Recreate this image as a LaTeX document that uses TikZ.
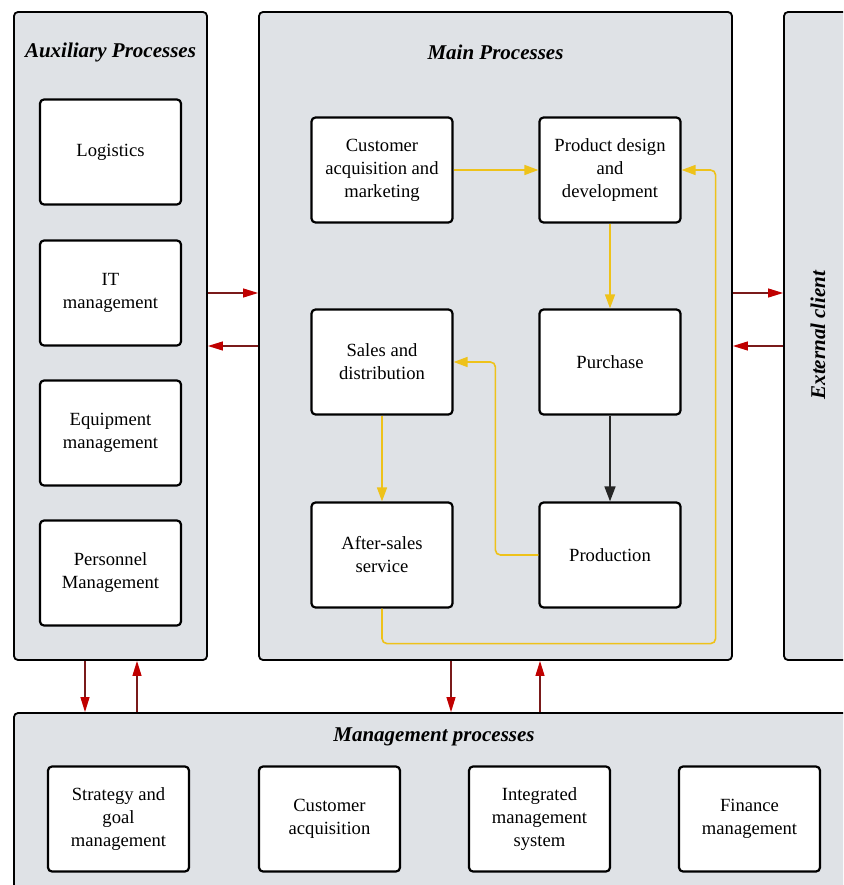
\documentclass[tikz,border=0pt]{standalone}
\usepackage{fontspec}
\setmainfont{Liberation Serif}
\usetikzlibrary{arrows.meta,calc}
\definecolor{panelfill}{HTML}{DFE2E6}
\definecolor{darkred}{HTML}{7A1A1A}
\definecolor{tipred}{HTML}{C00000}
\definecolor{flowyellow}{HTML}{EEC21A}
\begin{document}
\begin{tikzpicture}[x=1pt,y=-1pt,
 panel/.style={draw=black,line width=1.8pt,fill=panelfill,rounded corners=4pt,inner sep=0pt},
 box/.style={draw=black,line width=2.2pt,fill=white,rounded corners=4pt,minimum width=141pt,minimum height=105pt,align=center,font=\fontsize{18.6}{23}\selectfont,inner sep=0pt},
 ptitle/.style={font=\fontsize{21}{24}\selectfont\bfseries\itshape},
 redarr/.style={draw=darkred,line width=1.2pt,-{Triangle[length=15pt,width=9pt,color=tipred,fill=tipred]}},
 yarr/.style={draw=flowyellow,line width=1.6pt,rounded corners=5pt,-{Triangle[length=14pt,width=10pt]}},
 blkarr/.style={draw=black!85,line width=1.6pt,-{Triangle[length=15pt,width=11pt]}}]
\useasboundingbox (0,0) rectangle (843,885);
\clip (0,0) rectangle (843,885);
% panels
\node[panel,minimum width=193pt,minimum height=648pt] (aux) at (110.5,336) {};
\node[panel,minimum width=473pt,minimum height=648pt] (main) at (495.5,336) {};
\node[panel,minimum width=68pt,minimum height=648pt] (ext) at (818,336) {};
\node[panel,minimum width=846pt,minimum height=187pt] (mgmt) at (437,806.5) {};
% titles
\node[ptitle] (auxt) at (110.5,52) {Auxiliary Processes};
\node[ptitle] (maint) at (495.5,52) {Main Processes};
\node[ptitle,rotate=90] (extt) at (818,335) {External client};
\node[ptitle] (mgmtt) at (434,737) {Management processes};
% auxiliary boxes
\node[box] (log) at (110.5,152) {Logistics};
\node[box] (it) at (110.5,293) {IT\\management};
\node[box] (equip) at (110.5,433) {Equipment\\management};
\node[box] (pers) at (110.5,573) {Personnel\\Management};
% main boxes
\node[box] (cust) at (382,170) {Customer\\acquisition and\\marketing};
\node[box] (design) at (610,170) {Product design\\and\\development};
\node[box] (sales) at (382,362) {Sales and\\distribution};
\node[box] (purch) at (610,362) {Purchase};
\node[box] (after) at (382,555) {After-sales\\service};
\node[box] (prod) at (610,555) {Production};
% management boxes
\node[box] (strat) at (118.5,819) {Strategy and\\goal\\management};
\node[box] (custacq) at (329.5,819) {Customer\\acquisition};
\node[box] (ims) at (539.5,819) {Integrated\\management\\system};
\node[box] (fin) at (749.5,819) {Finance\\management};
% main flows
\draw[yarr] (cust.east) -- (design.west);
\draw[yarr] (design.south) -- (purch.north);
\draw[blkarr] (purch.south) -- (prod.north);
\draw[yarr] (sales.south) -- (after.north);
\draw[yarr] (prod.west) -- ++(-43,0) |- (sales.east);
\draw[yarr] (after.south) -- ++(0,35) -| ([xshift=34pt]design.east) -- (design.east);
% panel links
\draw[redarr] (aux.east |- 0,293) -- (main.west |- 0,293);
\draw[redarr] (main.west |- 0,346) -- (aux.east |- 0,346);
\draw[redarr] (main.east |- 0,293) -- (ext.west |- 0,293);
\draw[redarr] (ext.west |- 0,346) -- (main.east |- 0,346);
\draw[redarr] (aux.south -| 85,0) -- (mgmt.north -| 85,0);
\draw[redarr] (mgmt.north -| 137,0) -- (aux.south -| 137,0);
\draw[redarr] (main.south -| 451,0) -- (mgmt.north -| 451,0);
\draw[redarr] (mgmt.north -| 540,0) -- (main.south -| 540,0);
\end{tikzpicture}
\end{document}
